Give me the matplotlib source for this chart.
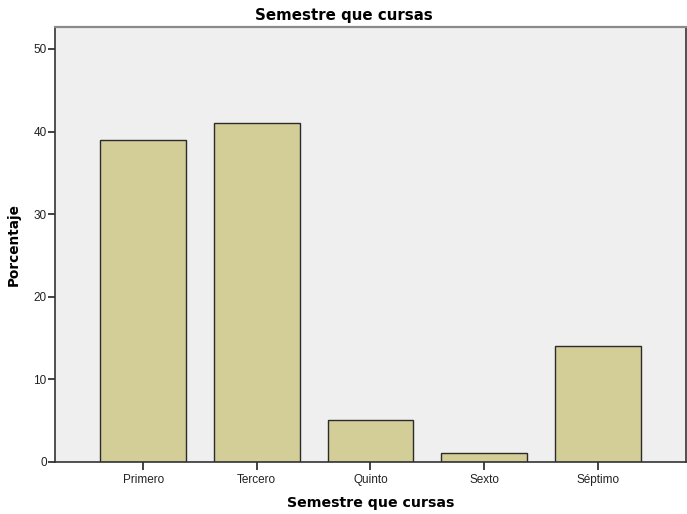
import matplotlib
matplotlib.use("Agg")
import matplotlib.pyplot as plt

categories = ["Primero", "Tercero", "Quinto", "Sexto", "Séptimo"]
porcentaje = [39, 41, 5, 1, 14]
y_ticks = [0, 10, 20, 30, 40, 50]

plt.rcParams['font.family'] = ['Liberation Sans', 'DejaVu Sans']

fig = plt.figure(figsize=(6.87, 5.14), dpi=100)
ax = fig.add_axes([0.0801, 0.1018, 0.9184, 0.8447])
ax.set_facecolor('#EFEFEF')

x = range(len(categories))
ax.bar(x, porcentaje, width=0.755, color='#D3CE97', edgecolor='#2B2B2B', linewidth=1.0, zorder=2)

ax.set_xlim(-0.775, len(categories) - 1 + 0.775)
ax.set_ylim(0, 52.6)
ax.set_yticks(y_ticks)
ax.set_xticks(list(x))
ax.set_xticklabels(categories)

ax.tick_params(axis='both', labelsize=8.5, colors='#222222', direction='out')
ax.tick_params(axis='y', length=5, width=1.2, pad=1)
ax.tick_params(axis='x', length=6, width=1.2, pad=3)

for side in ['left', 'bottom', 'right']:
    ax.spines[side].set_color('#333333')
    ax.spines[side].set_linewidth(1.2)
ax.spines['top'].set_color('#8A8A8A')
ax.spines['top'].set_linewidth(1.6)

bold = dict(family='DejaVu Sans', fontweight='bold')
fig.text(0.5, 1 - 15.5 / 514, "Semestre que cursas", ha='center', va='center', fontsize=10.8, **bold)
ax.set_xlabel("Semestre que cursas", fontsize=10.2, labelpad=7, **bold)
ax.set_ylabel("Porcentaje", fontsize=9.8, labelpad=9, **bold)

fig.savefig("out.png", dpi=100)
